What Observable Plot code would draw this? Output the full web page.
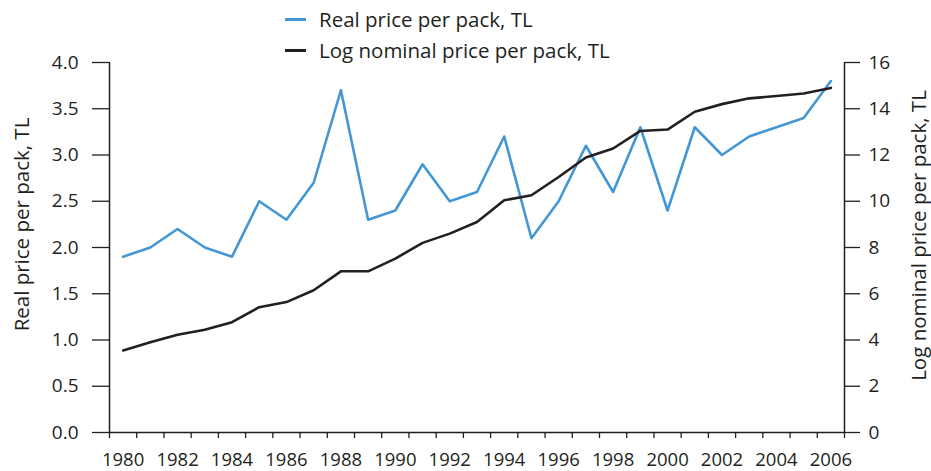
<!DOCTYPE html>
<html>
<head>
<meta charset="utf-8">
<script src="https://cdn.jsdelivr.net/npm/d3@7"></script>
<script src="https://cdn.jsdelivr.net/npm/@observablehq/plot@0.6"></script>
<style>
  body { margin: 0; background: #fff; font-family: "Open Sans", "DejaVu Sans", sans-serif; color: #231f20; }
  #legend { height: 50px; padding-left: 285px; padding-top: 4px; box-sizing: border-box; font-size: 20.5px; }
  .item { display: flex; align-items: center; height: 31px; line-height: 31px; }
  .sw { width: 21px; height: 0; border-top: 3px solid; margin-right: 13px; }
</style>
</head>
<body>
<div id="legend"></div>
<div id="chart"></div>
<script>
const years = d3.range(1980, 2007);
const realPrice = [1.9, 2.0, 2.2, 2.0, 1.9, 2.5, 2.3, 2.7, 3.7, 2.3, 2.4, 2.9, 2.5, 2.6, 3.2, 2.1, 2.5, 3.1, 2.6, 3.3, 2.4, 3.3, 3.0, 3.2, 3.3, 3.4, 3.8];
const logNominal = [3.55, 3.9, 4.23, 4.44, 4.77, 5.42, 5.64, 6.15, 6.97, 6.97, 7.52, 8.2, 8.6, 9.1, 10.04, 10.26, 11.05, 11.89, 12.28, 13.04, 13.1, 13.87, 14.2, 14.45, 14.55, 14.66, 14.9];
const leftTicks = [0, 0.5, 1, 1.5, 2, 2.5, 3, 3.5, 4];
const rightTicks = [0, 2, 4, 6, 8, 10, 12, 14, 16];
const yearLabels = years.filter(y => y % 2 === 0);
const seriesNames = ["Real price per pack, TL", "Log nominal price per pack, TL"];
const colors = ["#4497d5", "#231f20"];

const ratio = 4; // right axis max 16 / left axis max 4
const real = years.map((y, i) => ({year: y, v: realPrice[i]}));
const nominal = years.map((y, i) => ({year: y, v: logNominal[i] / ratio}));
const bounds = years.map(y => y - 0.5).concat([years[years.length - 1] + 0.5]);

document.getElementById("legend").innerHTML = seriesNames.map((n, i) =>
  `<div class="item"><span class="sw" style="border-color:${colors[i]}"></span>${n}</div>`).join("");

const ink = "#231f20";
const font = "'Open Sans', 'DejaVu Sans', sans-serif";
const chart = Plot.plot({
  width: 931,
  height: 421,
  marginTop: 12,
  marginBottom: 39,
  marginLeft: 109,
  marginRight: 87,
  style: {fontFamily: font, fontSize: "19px", color: ink, background: "#fff"},
  x: {domain: [bounds[0], bounds[bounds.length - 1]]},
  y: {domain: [0, 4]},
  marks: [
    Plot.axisX(bounds, {tickSize: 6, text: null, stroke: ink, strokeWidth: 1.3, label: null}),
    Plot.axisX(yearLabels, {tickSize: 0, tickPadding: 20, tickFormat: d => String(d), label: null, fill: ink, fontSize: 18.5}),
    Plot.axisY(leftTicks, {anchor: "left", tickSize: 17, tickPadding: 14, tickFormat: d => d.toFixed(1), stroke: ink, strokeWidth: 1.3, fill: ink, fontSize: 19, label: null}),
    Plot.axisY(rightTicks.map(t => t / ratio), {anchor: "right", tickSize: 15, tickPadding: 9, tickFormat: d => String(Math.round(d * ratio)), stroke: ink, strokeWidth: 1.3, fill: ink, fontSize: 19, label: null}),
    Plot.ruleX([bounds[0], bounds[bounds.length - 1]], {stroke: ink, strokeWidth: 1.5}),
    Plot.ruleY([0], {stroke: ink, strokeWidth: 1.5}),
    Plot.line(real, {x: "year", y: "v", stroke: colors[0], strokeWidth: 2.6}),
    Plot.line(nominal, {x: "year", y: "v", stroke: colors[1], strokeWidth: 2.6}),
    Plot.text([seriesNames[0]], {frameAnchor: "left", textAnchor: "middle", rotate: -90, dx: -87, dy: -23, fill: ink, fontSize: 20.5}),
    Plot.text([seriesNames[1]], {frameAnchor: "right", textAnchor: "middle", rotate: -90, dx: 75, dy: -12, fill: ink, fontSize: 20.5})
  ]
});
document.getElementById("chart").appendChild(chart);
</script>
</body>
</html>
